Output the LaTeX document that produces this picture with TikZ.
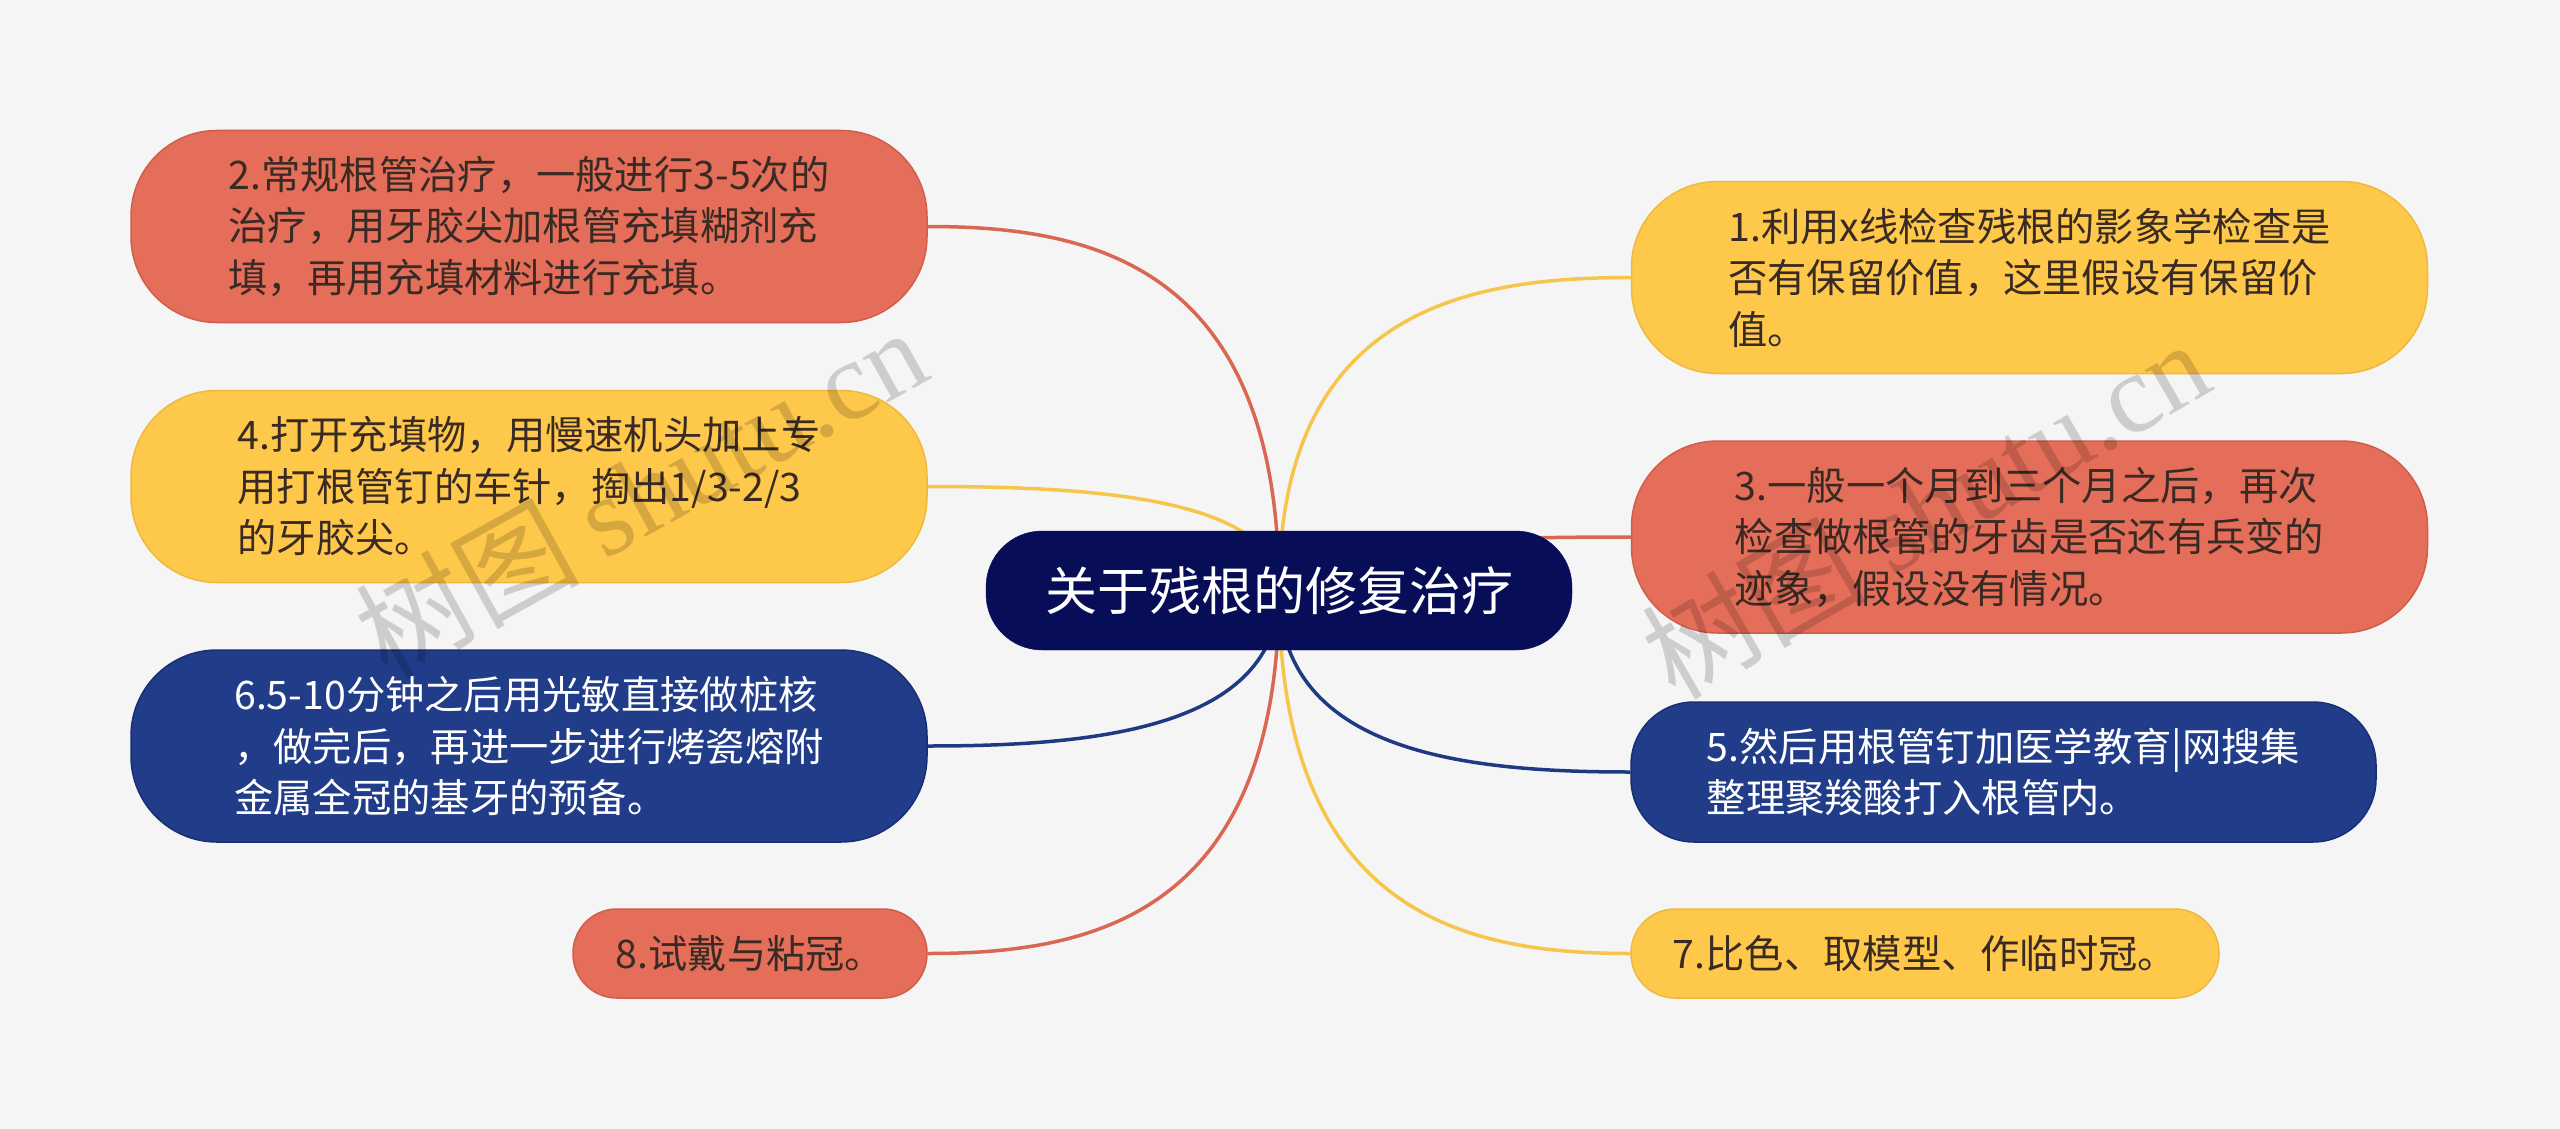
\documentclass[tikz,border=0pt]{standalone}
\usepackage{fontspec}
\setmainfont{Noto Sans CJK SC}
\newfontfamily\wmserif{Liberation Serif}
\usetikzlibrary{calc}
\pgfdeclarelayer{bglayer}
\pgfdeclarelayer{linklayer}
\pgfsetlayers{bglayer,linklayer,main}
\definecolor{bgc}{HTML}{F5F5F5}
\definecolor{redc}{HTML}{E46E59}
\definecolor{redb}{HTML}{CF5E4A}
\definecolor{redl}{HTML}{DA6752}
\definecolor{yelc}{HTML}{FEC84A}
\definecolor{yelb}{HTML}{EDBA3F}
\definecolor{yell}{HTML}{F6C54C}
\definecolor{navc}{HTML}{213D89}
\definecolor{navb}{HTML}{172F72}
\definecolor{navl}{HTML}{1E3A82}
\definecolor{cenc}{HTML}{080D58}
\definecolor{darktxt}{HTML}{3A2A24}
\tikzset{
  mmbox/.style={rounded corners=86pt, minimum width=796pt, minimum height=192pt,
    align=left, inner sep=0pt, line width=1.5pt,
    font=\fontsize{39.3}{51.5}\selectfont},
  redbox/.style={mmbox, fill=redc, draw=redb, text=darktxt},
  yelbox/.style={mmbox, fill=yelc, draw=yelb, text=darktxt},
  navbox/.style={mmbox, fill=navc, draw=navb, text=white},
  centbox/.style={rounded corners=56pt, minimum width=586pt, minimum height=119pt,
    inner sep=0pt, fill=cenc, draw=cenc, text=white,
    font=\fontsize{52}{60}\selectfont},
  link/.style={line width=3.5pt},
  wm/.style={text=black, text opacity=0.16, font=\fontsize{112}{120}\selectfont, inner sep=0pt}
}
\newcommand\mmlink[3]{%
  \draw[link,#1] let \p0=(#2), \p3=(#3) in
    (\p0) .. controls (\x0,{\y0+0.9*(\y3-\y0)}) and ({\x0+0.54*(\x3-\x0)},\y3) .. (\p3);}
\begin{document}
\begin{tikzpicture}[x=1pt,y=-1pt]
\useasboundingbox (0,0) rectangle (2560,1129);
\begin{pgfonlayer}{bglayer}
  \fill[bgc] (0,0) rectangle (2560,1129);
\end{pgfonlayer}

\node[centbox] (c) at (1279,590.5) {关于残根的修复治疗};

\node[redbox] (n2) at (529,226.5) {2.常规根管治疗，一般进行3-5次的\\治疗，用牙胶尖加根管充填糊剂充\\填，再用充填材料进行充填。};
\node[yelbox] (n4) at (529,486.5) {4.打开充填物，用慢速机头加上专\\用打根管钉的车针，掏出1/3-2/3\\的牙胶尖。};
\node[navbox] (n6) at (529,746) {6.5-10分钟之后用光敏直接做桩核\\，做完后，再进一步进行烤瓷熔附\\金属全冠的基牙的预备。};
\node[redbox, rounded corners=44pt, minimum width=354pt, minimum height=89pt] (n8) at (750,953.5) {8.试戴与粘冠。};

\node[yelbox] (n1) at (2029.5,277.5) {1.利用x线检查残根的影象学检查是\\否有保留价值，这里假设有保留价\\值。};
\node[redbox] (n3) at (2029.5,537) {3.一般一个月到三个月之后，再次\\检查做根管的牙齿是否还有兵变的\\迹象，假设没有情况。};
\node[navbox, rounded corners=63pt, minimum width=745pt, minimum height=140pt] (n5) at (2003.5,772) {5.然后用根管钉加医学教育|网搜集\\整理聚羧酸打入根管内。};
\node[yelbox, rounded corners=44pt, minimum width=588pt, minimum height=89pt] (n7) at (1925,953.5) {7.比色、取模型、作临时冠。};

\begin{pgfonlayer}{linklayer}
  \mmlink{redl}{c.center}{n2.east}
  \mmlink{yell}{c.center}{n4.east}
  \mmlink{navl}{c.center}{n6.east}
  \mmlink{redl}{c.center}{n8.east}
  \mmlink{yell}{c.center}{n1.west}
  \mmlink{redl}{c.center}{n3.west}
  \mmlink{navl}{c.center}{n5.west}
  \mmlink{yell}{c.center}{n7.west}
\end{pgfonlayer}

\node[wm, rotate=29] (wm1) at (640,492) {树图 {\wmserif shutu.cn}};
\node[wm, rotate=30] (wm2) at (1925,508) {树图 {\wmserif shutu.cn}};
\end{tikzpicture}
\end{document}
